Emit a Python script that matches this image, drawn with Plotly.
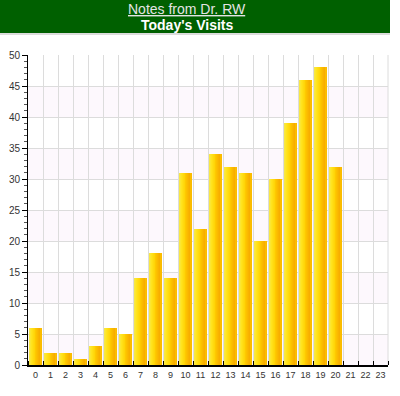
import plotly.graph_objects as go

hours = list(range(24))
hour_labels = [str(h) for h in hours]
visits = [6, 2, 2, 1, 3, 6, 5, 14, 18, 14, 31, 22, 34, 32, 31, 20, 30, 39, 46, 48, 32, 0, 0, 0]
y_ticks = [0, 5, 10, 15, 20, 25, 30, 35, 40, 45, 50]

# gradient stops across a bar (left -> right)
stops = [(0.0, (245, 232, 80)), (0.2, (255, 228, 30)), (0.5, (255, 208, 0)),
         (0.88, (248, 172, 0)), (1.0, (252, 196, 0))]

def col(t):
    for (t0, c0), (t1, c1) in zip(stops[:-1], stops[1:]):
        if t0 <= t <= t1:
            f = (t - t0) / (t1 - t0) if t1 > t0 else 0
            c = [round(a + (b - a) * f) for a, b in zip(c0, c1)]
            return f"rgb({c[0]},{c[1]},{c[2]})"
    return "rgb(252,196,0)"

fig = go.Figure()
N = 13
BW = 0.82
sw = BW / N
for i in range(N):
    fig.add_trace(go.Bar(
        x=hours, y=visits, width=sw * 1.15, offset=-BW / 2 + i * sw,
        marker=dict(color=col((i + 0.5) / N), line=dict(width=0)),
        hoverinfo="skip", showlegend=False))

PW, PH = 360, 310
shapes = []
# alternating pale bands
for lo in range(0, 50, 10):
    shapes.append(dict(type="rect", xref="paper", yref="y", x0=0, x1=1, y0=lo, y1=lo + 5,
                       fillcolor="#fdf8fd", line=dict(width=0), layer="below"))
# banner
shapes.append(dict(type="rect", xref="paper", yref="paper", x0=-28 / PW, x1=362 / PW,
                   y0=1 + 22 / PH, y1=1 + 55 / PH, fillcolor="#006000",
                   line=dict(width=0), layer="below"))
shapes.append(dict(type="line", xref="paper", yref="paper", x0=-28 / PW, x1=362 / PW,
                   y0=1 + 21 / PH, y1=1 + 21 / PH, line=dict(color="#b8b8b8", width=1)))
# right-edge grid line
shapes.append(dict(type="line", xref="paper", yref="paper", x0=1, x1=1, y0=0, y1=1,
                   line=dict(color="#dcdcdc", width=1), layer="below"))

fig.update_layout(
    width=400, height=396,
    margin=dict(l=28, r=12, t=55, b=31, autoexpand=False),
    paper_bgcolor="white", plot_bgcolor="white",
    barmode="overlay", bargap=0,
    shapes=shapes,
    font=dict(family="Liberation Sans, Arial", size=10, color="#333"),
    annotations=[
        dict(text="<u>Notes from Dr. RW</u>", xref="paper", yref="paper",
             x=(187 - 28) / PW, y=1 + (55 - 9) / PH, showarrow=False,
             xanchor="center", yanchor="middle",
             font=dict(size=14, color="#e4e4e4", family="Liberation Sans, Arial")),
        dict(text="<b>Today's Visits</b>", xref="paper", yref="paper",
             x=(187 - 28) / PW, y=1 + (55 - 25) / PH, showarrow=False,
             xanchor="center", yanchor="middle",
             font=dict(size=14, color="white", family="Liberation Sans, Arial")),
    ],
)
fig.update_xaxes(
    range=[-0.5, 23.5], tickmode="array", tickvals=hours, ticktext=hour_labels,
    showgrid=False, ticks="", showline=True, linecolor="black", linewidth=1.5,
    tickfont=dict(size=9, color="#333"), zeroline=False, automargin=False,
    minor=dict(tick0=-0.5, dtick=1, showgrid=True, gridcolor="#dcdcdc", gridwidth=1,
               ticks="inside", ticklen=4, tickcolor="black"),
)
fig.update_yaxes(
    range=[0, 50], tickmode="array", tickvals=y_ticks,
    showgrid=True, gridcolor="#dcdcdc", gridwidth=1,
    ticks="outside", ticklen=5, tickcolor="black", automargin=False,
    showline=True, linecolor="black", linewidth=1, zeroline=False,
    tickfont=dict(size=10, color="#333"),
    minor=dict(dtick=1, ticks="outside", ticklen=3, tickcolor="#555", showgrid=False),
)

fig.write_html("out.html", config={"displayModeBar": False},
               post_script="document.body.style.margin='0px';")
